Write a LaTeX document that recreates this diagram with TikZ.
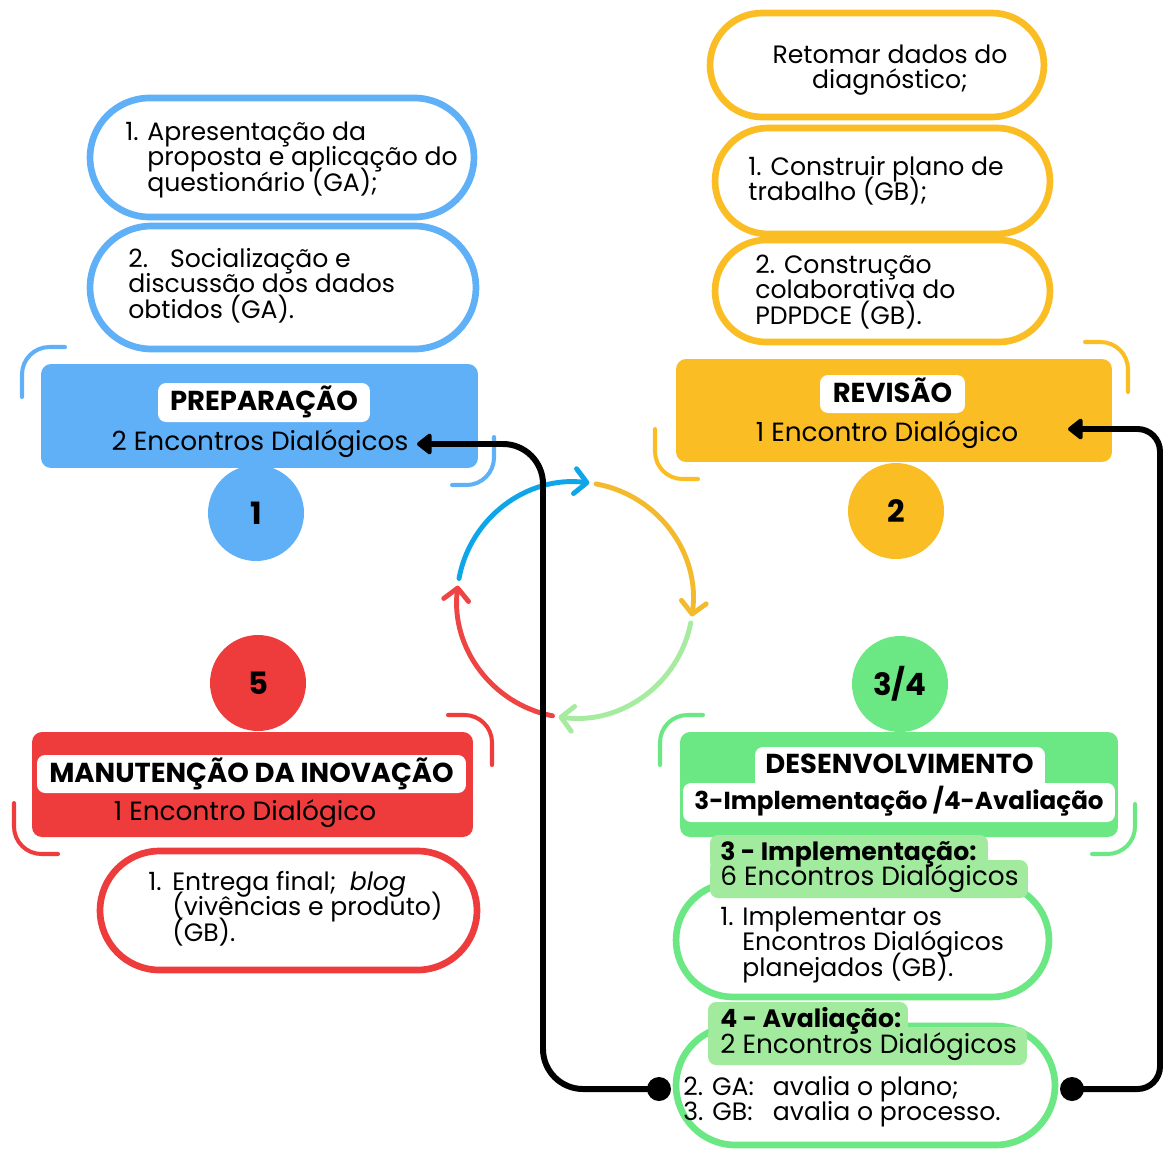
\documentclass[tikz,border=0pt]{standalone}
\usepackage{fontspec}
\setmainfont{Poppins}
\usetikzlibrary{arrows.meta,shapes.misc}
\definecolor{cB}{HTML}{60B0F8}
\definecolor{cY}{HTML}{FBBD24}
\definecolor{cR}{HTML}{EE3B3C}
\definecolor{cG}{HTML}{6BE883}
\definecolor{cLG}{HTML}{A2EB9E}
\definecolor{aB}{HTML}{0EA5E9}
\definecolor{aY}{HTML}{F4BA2E}
\definecolor{aG}{HTML}{A6EBA0}
\definecolor{aR}{HTML}{EF4444}
\newcommand\tl[1]{\vtop{\lineskiplimit=-100pt\halign{##\hfil\cr#1\crcr}}}
\newcommand\tc[1]{\vtop{\lineskiplimit=-100pt\halign{\hfil##\hfil\cr#1\crcr}}}
\newcommand\fbody{\fontsize{14.3}{14.6}\selectfont}
\newcommand\ftag{\fontsize{15.6}{17}\selectfont\bfseries}
\newcommand\ftagsm{\fontsize{14}{16}\selectfont\bfseries}
\newcommand\fsub{\fontsize{15}{16}\selectfont}
\newcommand\fnum{\fontsize{17.5}{20}\selectfont\bfseries}
\tikzset{
  pill/.style={rounded rectangle, line width=3.8pt, fill=white, inner sep=0},
  bigbox/.style={rectangle, rounded corners=0.2cm, inner sep=0},
  tagbox/.style={rectangle, fill=white, rounded corners=0.16cm, inner sep=0},
  lgbox/.style={rectangle, fill=cLG, rounded corners=0.16cm, inner sep=0},
  numc/.style={circle, inner sep=0, minimum size=1.92cm, font=\fnum},
  txt/.style={inner sep=0, font=\fbody, anchor=base west},
  tagtxt/.style={inner sep=0, font=\ftag, anchor=base},
  subtxt/.style={inner sep=0, font=\fsub, anchor=base},
  brk/.style={line width=2.3pt, line cap=round, rounded corners=0.55cm},
  cyc/.style={line width=2.8pt, line cap=round, -{Straight Barb[length=0.24cm,width=0.5cm,round]}},
  conn/.style={line width=3.4pt, -{Triangle[length=0.32cm,width=0.48cm,round]}},
  dotn/.style={circle, fill=black, inner sep=0, minimum size=0.48cm},
}
\begin{document}
\begin{tikzpicture}[x=0.02cm, y=-0.02cm]
\useasboundingbox (0,0) rectangle (1163,1150);
% brackets
\draw[brk, cB] (65,347) -- (22,347) -- (22,397);
\draw[brk, cB] (494,437) -- (494,485) -- (452,485);
\draw[brk, cY] (1085,342) -- (1128,342) -- (1128,392);
\draw[brk, cY] (655,429) -- (655,479) -- (698,479);
\draw[brk, cR] (448,715) -- (492,715) -- (492,765);
\draw[brk, cR] (14,803) -- (14,854) -- (58,854);
\draw[brk, cG] (703,715) -- (660,715) -- (660,765);
\draw[brk, cG] (1135,804) -- (1135,854) -- (1092,854);
% number circles
\node[numc, fill=cB] (n1) at (256,513) {1};
\node[numc, fill=cY] (n2) at (896,511) {2};
\node[numc, fill=cR] (n5) at (258,683) {5};
\node[numc, fill=cG] (n34) at (900,684) {3/4};
% ---------- PREPARACAO ----------
\node[pill, draw=cB, minimum width=7.68cm, minimum height=2.38cm] (bp1) at (282,157.5) {};
\node[pill, draw=cB, minimum width=7.72cm, minimum height=2.46cm] (bp2) at (283,287.5) {};
\node[txt] (bt1) at (147,140) {\tl{\llap{\makebox[12.5pt][l]{1.}}Apresentação da\cr proposta e aplicação do\cr questionário (GA);}};
\node[txt] (bt2) at (128,267) {\tl{\makebox[23.8pt][l]{2.}Socialização e\cr discussão dos dados\cr obtidos (GA).}};
\node[bigbox, fill=cB, minimum width=8.74cm, minimum height=2.08cm] (bbox) at (259.5,416) {};
\node[tagbox, minimum width=4.24cm, minimum height=0.78cm] (btag) at (264,402.5) {};
\node[tagtxt] (btagt) at (264,410) {PREPARAÇÃO};
\node[subtxt] (bsub) at (260,450) {2 Encontros Dialógicos};
% ---------- REVISAO ----------
\node[pill, draw=cY, minimum width=6.68cm, minimum height=2.08cm] (yp1) at (877,65) {};
\node[pill, draw=cY, minimum width=6.7cm, minimum height=2.12cm] (yp2) at (882.5,181) {};
\node[pill, draw=cY, minimum width=6.7cm, minimum height=2.04cm] (yp3) at (882.5,291) {};
\node[inner sep=0, font=\fbody, anchor=base] (yt1) at (890,63) {\tc{Retomar dados do\cr diagnóstico;}};
\node[txt] (yt2) at (748,175) {\tl{1. Construir plano de\cr trabalho (GB);}};
\node[txt] (yt3) at (755,273) {\tl{2. Construção\cr colaborativa do\cr PDPDCE (GB).}};
\node[bigbox, fill=cY, minimum width=8.72cm, minimum height=2.06cm] (ybox) at (894,410.5) {};
\node[tagbox, minimum width=2.9cm, minimum height=0.76cm] (ytag) at (892.5,394) {};
\node[tagtxt] (ytagt) at (892.5,402) {REVISÃO};
\node[subtxt] (ysub) at (887,441) {1 Encontro Dialógico};
% ---------- MANUTENCAO ----------
\node[bigbox, fill=cR, minimum width=8.82cm, minimum height=2.1cm] (rbox) at (252.5,784.5) {};
\node[tagbox, minimum width=8.58cm, minimum height=0.76cm] (rtag) at (251.5,774) {};
\node[tagtxt] (rtagt) at (251.5,782) {MANUTENÇÃO DA INOVAÇÃO};
\node[subtxt] (rsub) at (245,820) {1 Encontro Dialógico};
\node[pill, draw=cR, minimum width=7.54cm, minimum height=2.38cm] (rp1) at (288.5,910.5) {};
\node[txt] (rt1) at (172,890) {\tl{\llap{\makebox[13.6pt][l]{1.}}Entrega final;\ \ \textit{blog}\cr (vivências e produto)\cr (GB).}};
% ---------- DESENVOLVIMENTO ----------
\node[bigbox, fill=cG, minimum width=8.76cm, minimum height=2.1cm] (gbox) at (899,784.5) {};
\node[tagbox, minimum width=5.8cm, minimum height=0.84cm] (gtag1) at (900,768) {};
\node[tagbox, minimum width=8.64cm, minimum height=0.78cm] (gtag2) at (899,802.5) {};
\node[tagtxt] (gtagt1) at (899.5,773) {DESENVOLVIMENTO};
\node[tagtxt, font=\ftagsm] (gtagt2) at (899,809) {3-Implementação /4-Avaliação};
% implementacao
\node[pill, draw=cG, minimum width=7.46cm, minimum height=2.28cm] (gp1) at (862.5,940) {};
\node[lgbox, minimum width=5.56cm, minimum height=0.7cm] (gl1a) at (849,852.5) {};
\node[lgbox, minimum width=6.36cm, minimum height=0.76cm] (gl1b) at (869,879) {};
\node[inner sep=0, font=\fontsize{14.3}{16}\selectfont\bfseries, anchor=base west] (gl1t) at (720,860) {3 - Implementação:};
\node[inner sep=0, font=\fsub, anchor=base west] (gl1s) at (720,885) {6 Encontros Dialógicos};
\node[txt] (gt1) at (742,925) {\tl{\llap{\makebox[12.5pt][l]{1.}}Implementar os\cr Encontros Dialógicos\cr planejados (GB).}};
% avaliacao
\node[pill, draw=cG, minimum width=7.58cm, minimum height=2.38cm] (gp2) at (865.5,1085.5) {};
\node[lgbox, minimum width=4.0cm, minimum height=0.66cm] (gl2a) at (808,1018.5) {};
\node[lgbox, minimum width=6.38cm, minimum height=0.76cm] (gl2b) at (867.5,1046) {};
\node[inner sep=0, font=\fontsize{14.3}{16}\selectfont\bfseries, anchor=base west] (gl2t) at (720,1027) {4 - Avaliação:};
\node[inner sep=0, font=\fsub, anchor=base west] (gl2s) at (720,1053) {2 Encontros Dialógicos};
\node[txt] (gt2) at (683,1095) {\tl{\makebox[51pt][l]{2. GA:}avalia o plano;\cr \makebox[51pt][l]{3. GB:}avalia o processo.}};
% ---------- cycle ----------
\begin{scope}[shift={(575,600)}]
\draw[cyc, draw=aB] (169.5:2.36cm) arc[start angle=169.5, end angle=83, radius=2.36cm];
\draw[cyc, draw=aY] (79.7:2.36cm) arc[start angle=79.7, end angle=-8, radius=2.36cm];
\draw[cyc, draw=aG] (-11.2:2.36cm) arc[start angle=-11.2, end angle=-98, radius=2.36cm];
\draw[cyc, draw=aR] (-101:2.36cm) arc[start angle=-101, end angle=-187, radius=2.36cm];
\end{scope}
% ---------- connectors ----------
\node[dotn] (dL) at (659,1089) {};
\node[dotn] (dR) at (1072,1089) {};
\coordinate (jL) at (543,0);
\coordinate (jR) at (1160,0);
\coordinate (tipL) at (417,444);
\coordinate (tipR) at (1068,429);
\draw[conn, rounded corners=0.8cm] (dL.center) -- (dL.center -| jL) -- (jL |- tipL) -- (tipL);
\draw[conn, rounded corners=0.45cm] (dR.center) -- (dR.center -| jR) -- (jR |- tipR) -- (tipR);
\end{tikzpicture}
\end{document}
